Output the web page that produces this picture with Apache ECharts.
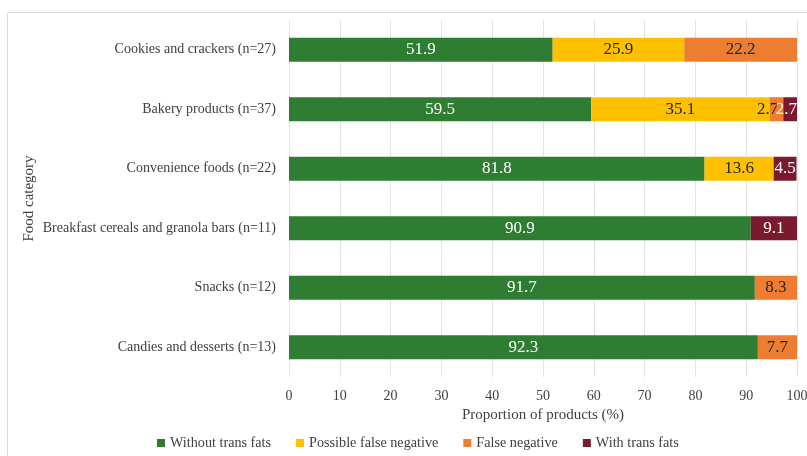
<!DOCTYPE html>
<html>
<head>
<meta charset="utf-8">
<script src="https://cdn.jsdelivr.net/npm/echarts@6/dist/echarts.min.js"></script>
<style>
  html, body { margin: 0; padding: 0; background: #fff; }
  #chart { width: 807px; height: 456px; }
</style>
</head>
<body>
<div id="chart"></div>
<script>
// Food categories, listed top to bottom
const categories = [
  'Cookies and crackers (n=27)',
  'Bakery products (n=37)',
  'Convenience foods (n=22)',
  'Breakfast cereals and granola bars (n=11)',
  'Snacks (n=12)',
  'Candies and desserts (n=13)'
];

// Share of products (%) in each category
const withoutTransFats      = [51.9, 59.5, 81.8, 90.9, 91.7, 92.3];
const possibleFalseNegative = [25.9, 35.1, 13.6, 0, 0, 0];
const falseNegative         = [22.2, 2.7, 0, 0, 8.3, 7.7];
const withTransFats         = [0, 2.7, 4.5, 9.1, 0, 0];

const xTicks = [0, 10, 20, 30, 40, 50, 60, 70, 80, 90, 100];

const FONT = '"Liberation Serif", "DejaVu Serif", serif';
const TEXT = '#404040';

// Segments too narrow for their label get it pushed to the right edge,
// nudged left by `narrowShift` so neighbouring labels do not collide.
function makeSeries(name, values, color, labelColor, narrowShift) {
  return {
    name: name,
    type: 'bar',
    stack: 'total',
    barWidth: 24,
    data: values.map(v => {
      if (v === 0) return '-';
      if (v < 3) {
        return {
          value: v,
          label: { position: 'insideRight', distance: 0, offset: [narrowShift, 0] }
        };
      }
      return v;
    }),
    itemStyle: { color: color },
    label: {
      show: true,
      position: 'inside',
      color: labelColor,
      fontFamily: FONT,
      fontSize: 17,
      formatter: p => (p.value ? p.value.toFixed(1) : '')
    },
    emphasis: { disabled: true }
  };
}

const chart = echarts.init(document.getElementById('chart'), null, { renderer: 'canvas' });

chart.setOption({
  animation: false,
  backgroundColor: '#fff',
  textStyle: { fontFamily: FONT },
  graphic: [{
    type: 'rect',
    z: -10,
    shape: { x: 7.5, y: 12.5, width: 900, height: 600, r: 2 },
    style: { fill: 'none', stroke: '#d9d9d9', lineWidth: 1 }
  }],
  grid: { left: 289, right: 10, top: 20, bottom: 79, outerBoundsMode: 'none', containLabel: false },
  legend: {
    left: 152,
    bottom: 1,
    icon: 'rect',
    itemWidth: 8,
    itemHeight: 8,
    itemGap: 25,
    textStyle: { color: TEXT, fontFamily: FONT, fontSize: 14.2 },
    data: ['Without trans fats', 'Possible false negative', 'False negative', 'With trans fats']
  },
  xAxis: {
    type: 'value',
    min: xTicks[0],
    max: xTicks[xTicks.length - 1],
    interval: 10,
    name: 'Proportion of products (%)',
    nameLocation: 'middle',
    nameGap: 29,
    nameTextStyle: { color: TEXT, fontFamily: FONT, fontSize: 15, verticalAlign: 'top' },
    axisLine: { show: false },
    axisTick: { show: false },
    axisLabel: { color: TEXT, fontFamily: FONT, fontSize: 14, margin: 12 },
    splitLine: { show: true, lineStyle: { color: '#e3e3e3', width: 1 } }
  },
  yAxis: {
    type: 'category',
    inverse: true,
    data: categories,
    name: 'Food category',
    nameLocation: 'middle',
    nameGap: 252,
    nameMoveOverlap: false,
    nameRotate: 90,
    nameTextStyle: { color: TEXT, fontFamily: FONT, fontSize: 15 },
    axisLine: { show: false },
    axisTick: { show: false },
    axisLabel: { color: TEXT, fontFamily: FONT, fontSize: 14, margin: 13 }
  },
  series: [
    makeSeries('Without trans fats', withoutTransFats, '#2e7d32', '#ffffff', 0),
    makeSeries('Possible false negative', possibleFalseNegative, '#ffc000', '#262626', 0),
    makeSeries('False negative', falseNegative, '#ed7d31', '#262626', -5),
    makeSeries('With trans fats', withTransFats, '#7b1a2e', '#ffffff', 0)
  ]
});
</script>
</body>
</html>
